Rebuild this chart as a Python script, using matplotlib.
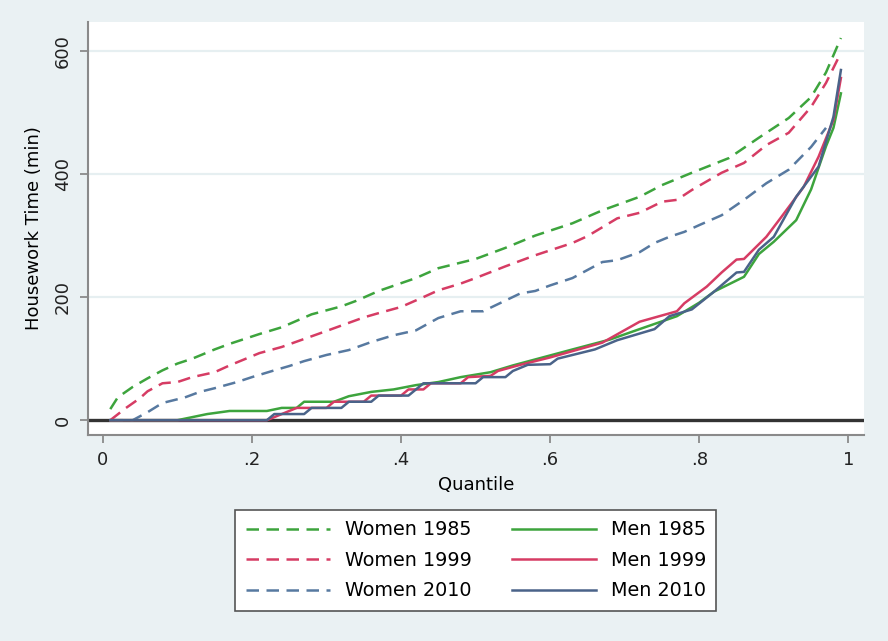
import matplotlib
matplotlib.use("Agg")
import matplotlib.pyplot as plt

# ── Data ─────────────────────────────────────────────────────────────────────

women_1985_q = [0.01, 0.02, 0.04, 0.06, 0.08, 0.10, 0.12, 0.15, 0.17, 0.19, 0.21,
                0.24, 0.28, 0.32, 0.34, 0.37, 0.42, 0.45, 0.50, 0.54, 0.58, 0.63,
                0.67, 0.72, 0.75, 0.79, 0.84, 0.88, 0.92, 0.95, 0.97, 0.99]
women_1985 = [18, 37, 54, 68, 81, 92, 100, 115, 124, 132, 140,
              151, 172, 185, 194, 210, 231, 247, 262, 280, 300, 320,
              341, 363, 382, 402, 426, 459, 491, 525, 565, 621]

women_1999_q = [0.01, 0.03, 0.05, 0.06, 0.08, 0.10, 0.12, 0.15, 0.17, 0.19, 0.21,
                0.24, 0.30, 0.35, 0.37, 0.40, 0.43, 0.45, 0.48, 0.50, 0.54, 0.58,
                0.63, 0.65, 0.69, 0.72, 0.75, 0.77, 0.79, 0.83, 0.86, 0.89, 0.92,
                0.95, 0.97, 0.99]
women_1999 = [0, 19, 36, 47, 60, 62, 70, 78, 89, 99, 109,
              119, 145, 167, 174, 184, 200, 211, 222, 231, 250, 268,
              288, 299, 328, 337, 355, 358, 374, 402, 418, 447, 467,
              509, 548, 597]

women_2010_q = [0.01, 0.04, 0.06, 0.08, 0.11, 0.13, 0.15, 0.18, 0.20, 0.23, 0.25,
                0.27, 0.30, 0.33, 0.36, 0.39, 0.42, 0.45, 0.48, 0.51, 0.56, 0.58,
                0.60, 0.63, 0.65, 0.67, 0.69, 0.72, 0.74, 0.76, 0.78, 0.80, 0.83,
                0.86, 0.89, 0.92, 0.95, 0.97]
women_2010 = [0, 0, 13, 28, 37, 46, 52, 62, 70, 81, 88,
              96, 106, 114, 127, 138, 146, 166, 177, 177, 206, 210,
              219, 231, 244, 257, 260, 273, 288, 298, 306, 317, 333,
              358, 385, 407, 444, 475]

men_1985_q = [0.01, 0.10, 0.12, 0.14, 0.17, 0.22, 0.24, 0.26, 0.27, 0.31, 0.33,
              0.36, 0.39, 0.42, 0.45, 0.48, 0.52, 0.55, 0.59, 0.63, 0.68, 0.72,
              0.77, 0.80, 0.82, 0.86, 0.88, 0.90, 0.93, 0.95, 0.97, 0.98, 0.99]
men_1985 = [0, 0, 5, 10, 15, 15, 20, 20, 30, 30, 39,
            46, 50, 57, 62, 70, 78, 89, 102, 115, 131, 148,
            169, 191, 209, 233, 270, 290, 325, 375, 445, 475, 531]

men_1999_q = [0.01, 0.22, 0.24, 0.26, 0.30, 0.31, 0.35, 0.36, 0.40, 0.41, 0.43,
              0.44, 0.48, 0.49, 0.52, 0.53, 0.56, 0.60, 0.67, 0.72, 0.77, 0.78,
              0.81, 0.83, 0.85, 0.86, 0.89, 0.91, 0.94, 0.96, 0.98, 0.99]
men_1999 = [0, 0, 10, 20, 20, 30, 30, 40, 40, 50, 50,
            60, 60, 70, 72, 80, 90, 102, 126, 160, 177, 190,
            217, 240, 261, 262, 298, 330, 379, 428, 488, 556]

men_2010_q = [0.01, 0.22, 0.23, 0.27, 0.28, 0.32, 0.33, 0.36, 0.37, 0.41, 0.42,
              0.43, 0.50, 0.51, 0.54, 0.55, 0.57, 0.60, 0.61, 0.66, 0.69, 0.74,
              0.76, 0.79, 0.82, 0.85, 0.86, 0.88, 0.90, 0.93, 0.96, 0.98, 0.99]
men_2010 = [0, 0, 10, 10, 20, 20, 30, 30, 40, 40, 50,
            60, 60, 70, 70, 80, 90, 91, 100, 115, 130, 148,
            169, 180, 209, 240, 241, 277, 298, 363, 412, 493, 569]

x_ticks = [0, 0.2, 0.4, 0.6, 0.8, 1.0]
x_tick_labels = ["0", ".2", ".4", ".6", ".8", "1"]
y_ticks = [0, 200, 400, 600]

# ── Style ────────────────────────────────────────────────────────────────────

GREEN = "#3DA43D"
RED = "#D63C64"
BLUE = "#5779A0"
NAVY = "#4A6389"
BG = "#EAF1F3"
AXIS = "#8A8A8A"
LW = 1.8
DASH = (5, 3)

plt.rcParams.update({
    "font.family": "DejaVu Sans",
    "font.size": 13,
})

fig = plt.figure(figsize=(8.88, 6.41), dpi=100, facecolor=BG)
ax = fig.add_axes([0.099, 0.3214, 0.874, 0.6443])
ax.set_facecolor("white")

ax.axhline(0, color="#333333", linewidth=2.4, zorder=1)
for yv in (200, 400, 600):
    ax.axhline(yv, color="#E6EFF1", linewidth=1.6, zorder=0.5)

series = [
    (women_1985_q, women_1985, GREEN, "--", "Women 1985"),
    (women_1999_q, women_1999, RED, "--", "Women 1999"),
    (women_2010_q, women_2010, BLUE, "--", "Women 2010"),
    (men_1985_q, men_1985, GREEN, "-", "Men 1985"),
    (men_1999_q, men_1999, RED, "-", "Men 1999"),
    (men_2010_q, men_2010, NAVY, "-", "Men 2010"),
]
for q, v, c, ls, lab in series:
    line, = ax.plot(q, v, color=c, linestyle=ls, linewidth=LW, label=lab, zorder=2)
    if ls == "--":
        line.set_dashes(DASH)

ax.set_xlim(-0.02, 1.021)
ax.set_ylim(-24, 647)

ax.set_xticks(x_ticks)
ax.set_xticklabels(x_tick_labels)
ax.set_yticks(y_ticks)
ax.set_yticklabels([str(v) for v in y_ticks], rotation=90, va="center")

for s in ("top", "right"):
    ax.spines[s].set_visible(False)
for s in ("left", "bottom"):
    ax.spines[s].set_color(AXIS)
    ax.spines[s].set_linewidth(1.5)

ax.tick_params(axis="both", direction="out", color=AXIS, width=1.3,
               length=5.5, labelsize=13, labelcolor="#222222", pad=6)

ax.set_xlabel("Quantile", fontsize=13, labelpad=5)
ax.set_ylabel("Housework Time (min)", fontsize=13, labelpad=8)

leg = fig.legend(loc="center", bbox_to_anchor=(0.536, 0.1256), ncol=2,
                 fontsize=13.8, frameon=True, fancybox=False, framealpha=1,
                 handlelength=4.4, handletextpad=0.75, columnspacing=2.1,
                 labelspacing=0.6, borderpad=0.55)
leg.get_frame().set_edgecolor("#555555")
leg.get_frame().set_linewidth(1.2)
leg.get_frame().set_facecolor("white")

fig.savefig("out.png", dpi=100, facecolor=BG)
